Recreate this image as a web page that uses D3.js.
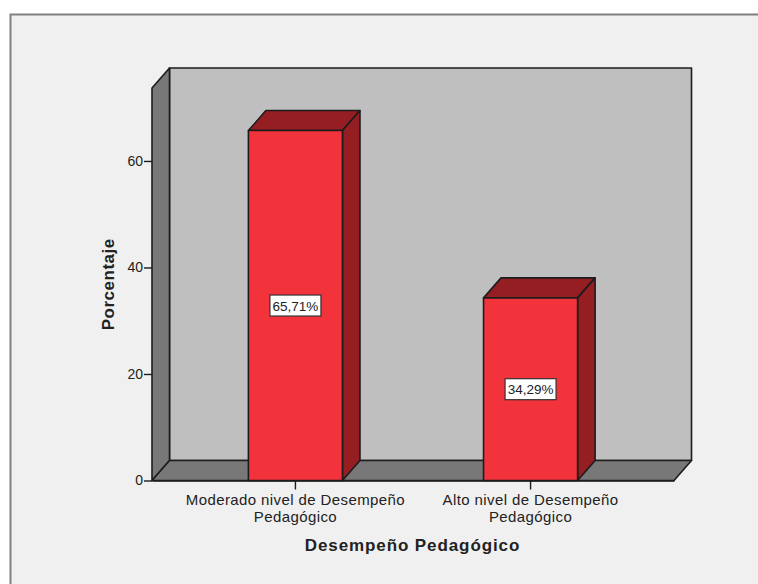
<!DOCTYPE html>
<html>
<head>
<meta charset="utf-8">
<script src="https://cdn.jsdelivr.net/npm/d3@7"></script>
<style>
html, body { margin: 0; padding: 0; background: #fff; }
svg { display: block; }
text { font-family: "Liberation Sans", Arial, sans-serif; fill: #222; }
</style>
</head>
<body>
<svg width="758" height="584"></svg>
<script>
const categories = [
    ['Moderado nivel de Desempeño', 'Pedagógico'],
    ['Alto nivel de Desempeño', 'Pedagógico']
];
const values = [65.71, 34.29];
const valueLabels = ['65,71%', '34,29%'];
const yTicks = [0, 20, 40, 60];
const yMax = 73.7;
const xAxisLabel = 'Desempeño Pedagógico';
const yAxisLabel = 'Porcentaje';

const svg = d3.select('svg');
const width = +svg.attr('width');
const height = +svg.attr('height');

const lineColor = '#1c1c1c';
const depthX = 17.5;
const depthY = -20;

const margin = { top: 88, right: 84, bottom: 103.5, left: 152 };
const innerWidth = width - margin.left - margin.right;
const innerHeight = height - margin.top - margin.bottom;

// outer panel, only its top and left edges are in the picture
svg.append('rect')
    .attr('x', 10)
    .attr('y', 14)
    .attr('width', width - 10)
    .attr('height', height - 14)
    .attr('fill', '#f0f0f0');

svg.append('path')
    .attr('d', `M10.5,${height}V14.5H${width}`)
    .attr('fill', 'none')
    .attr('stroke', '#808080')
    .attr('stroke-width', 2);

const g = svg.append('g')
    .attr('transform', `translate(${margin.left}, ${margin.top})`);

const xScale = d3.scaleBand()
    .domain(d3.range(categories.length))
    .range([0, innerWidth])
    .paddingInner(0.6)
    .paddingOuter(0.41);

const yScale = d3.scaleLinear()
    .domain([0, yMax])
    .range([innerHeight, 0]);

const poly = pts => 'M' + pts.map(p => p.join(',')).join('L') + 'Z';

const face = (d, fill) => g.append('path')
    .attr('d', d)
    .attr('fill', fill)
    .attr('stroke', lineColor)
    .attr('stroke-width', 1.6)
    .attr('stroke-linejoin', 'round');

// back wall, side wall and floor
face(poly([[depthX, depthY], [innerWidth + depthX, depthY], [innerWidth + depthX, innerHeight + depthY], [depthX, innerHeight + depthY]]), '#bfbfbf');
face(poly([[0, 0], [depthX, depthY], [depthX, innerHeight + depthY], [0, innerHeight]]), '#787878');
face(poly([[0, innerHeight], [depthX, innerHeight + depthY], [innerWidth + depthX, innerHeight + depthY], [innerWidth, innerHeight]]), '#787878');

// bars
values.forEach((v, i) => {
    const x0 = xScale(i);
    const x1 = x0 + xScale.bandwidth();
    const y0 = yScale(v);
    const y1 = yScale(0);

    face(poly([[x0, y0], [x0 + depthX, y0 + depthY], [x1 + depthX, y0 + depthY], [x1, y0]]), '#951e23');
    face(poly([[x1, y0], [x1 + depthX, y0 + depthY], [x1 + depthX, y1 + depthY], [x1, y1]]), '#951e23');
    face(poly([[x0, y0], [x1, y0], [x1, y1], [x0, y1]]), '#f3333b');
});

// axes
const yAxisG = g.append('g')
    .call(d3.axisLeft(yScale).tickValues(yTicks).tickSize(8).tickPadding(1));
yAxisG.select('.domain').remove();
yAxisG.selectAll('line').attr('stroke', lineColor).attr('stroke-width', 1.4);
yAxisG.selectAll('text')
    .style('font-size', '14px')
    .style('font-family', '"Liberation Sans", Arial, sans-serif')
    .attr('fill', '#333');

const xAxisG = g.append('g')
    .attr('transform', `translate(0, ${innerHeight})`)
    .call(d3.axisBottom(xScale).tickSizeInner(9).tickSizeOuter(0).tickFormat(''));
xAxisG.select('.domain').attr('stroke', lineColor).attr('stroke-width', 1.6);
xAxisG.selectAll('line').attr('stroke', lineColor).attr('stroke-width', 1.4);

xAxisG.selectAll('.tick').each(function (i) {
    const label = d3.select(this).select('text')
        .text(null)
        .attr('y', 0)
        .attr('dy', null)
        .attr('text-anchor', 'middle')
        .style('font-family', '"Liberation Sans", Arial, sans-serif')
        .style('font-size', '15px')
        .style('letter-spacing', '0.4px')
        .attr('fill', '#333');
    categories[i].forEach((line, k) => {
        label.append('tspan')
            .attr('x', 0)
            .attr('y', 24.5 + k * 16.5)
            .text(line);
    });
});

// value labels
values.forEach((v, i) => {
    const cx = xScale(i) + xScale.bandwidth() / 2;
    const cy = yScale(v / 2);
    g.append('rect')
        .attr('x', cx - 25.5)
        .attr('y', cy - 10.5)
        .attr('width', 51)
        .attr('height', 21)
        .attr('fill', '#fff')
        .attr('stroke', '#333')
        .attr('stroke-width', 1.2);
    g.append('text')
        .attr('x', cx)
        .attr('y', cy + 5)
        .attr('text-anchor', 'middle')
        .style('font-size', '13.5px')
        .text(valueLabels[i]);
});

// axis titles
g.append('text')
    .attr('x', innerWidth / 2 - 0.5)
    .attr('y', innerHeight + 70)
    .attr('text-anchor', 'middle')
    .style('font-size', '17px')
    .style('font-weight', 'bold')
    .style('letter-spacing', '0.9px')
    .text(xAxisLabel);

g.append('text')
    .attr('transform', 'rotate(-90)')
    .attr('x', -innerHeight / 2)
    .attr('y', -38)
    .attr('text-anchor', 'middle')
    .style('font-size', '17px')
    .style('font-weight', 'bold')
    .style('letter-spacing', '0.5px')
    .text(yAxisLabel);
</script>
</body>
</html>
